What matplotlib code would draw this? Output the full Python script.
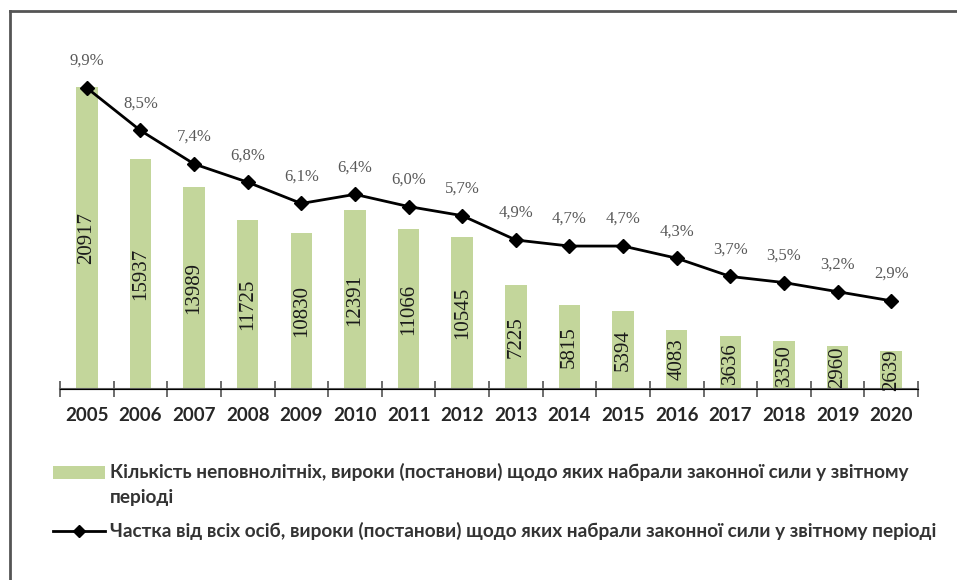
import matplotlib
matplotlib.use("Agg")
import matplotlib.pyplot as plt
from matplotlib.lines import Line2D
from matplotlib.patches import Rectangle

years = ["2005", "2006", "2007", "2008", "2009", "2010", "2011", "2012",
         "2013", "2014", "2015", "2016", "2017", "2018", "2019", "2020"]
counts = [20917, 15937, 13989, 11725, 10830, 12391, 11066, 10545,
          7225, 5815, 5394, 4083, 3636, 3350, 2960, 2639]
shares = [9.9, 8.5, 7.4, 6.8, 6.1, 6.4, 6.0, 5.7,
          4.9, 4.7, 4.7, 4.3, 3.7, 3.5, 3.2, 2.9]
legend_bar = ("Кількість неповнолітніх, вироки (постанови) щодо яких набрали законної сили у звітному",
              "періоді")
legend_line = "Частка від всіх осіб, вироки (постанови) щодо яких набрали законної сили у звітному періоді"

W, H = 957, 580
fig = plt.figure(figsize=(W / 100, H / 100), dpi=100)
fig.patch.set_facecolor("white")

def fx(px):
    return px / W

def fy(py):
    return 1 - py / H

ax = fig.add_axes([fx(60), fy(389), fx(918) - fx(60), fy(28) - fy(389)])
ax2 = ax.twinx()

x = list(range(len(years)))
bar_color = "#C3D69B"
ax.bar(x, counts, width=0.4, color=bar_color, zorder=2)
for xi, c in zip(x, counts):
    ax.text(xi, c / 2, str(c), rotation=90, ha="center", va="center",
            fontsize=15, family="Liberation Serif", color="#1a1a1a", zorder=3)
ax.set_ylim(0, 25000)
ax.set_xlim(-0.5, len(years) - 0.5)

ax2.plot(x, shares, color="black", lw=2, marker="D", markersize=7, zorder=4)
ax2.set_ylim(0, 11.87)
for xi, s in zip(x, shares):
    ax2.annotate(f"{s:.1f}%".replace(".", ","), (xi, s), xytext=(0, 27),
                 textcoords="offset pixels", ha="center", va="center",
                 fontsize=12, family="Liberation Serif", color="#595959")

for a in (ax, ax2):
    for side in ("top", "right", "left"):
        a.spines[side].set_visible(False)
    a.set_yticks([])
ax.spines["bottom"].set_color("#606060")
ax.spines["bottom"].set_linewidth(1.5)
ax.set_xticks([i - 0.5 for i in range(len(years) + 1)])
ax.set_xticklabels([])
ax.set_xticks(x, minor=True)
ax.set_xticklabels(years, minor=True, fontsize=13.5, fontweight="bold",
                   family="Lato", color="#262626")
ax.tick_params(axis="x", which="major", direction="inout", length=12,
               width=1.3, color="#606060")
ax.tick_params(axis="x", which="minor", length=0, pad=13)

# frame lines
fig.add_artist(Line2D([fx(10), 1], [fy(11), fy(11)], color="#555555", lw=2))
fig.add_artist(Line2D([fx(10), fx(10)], [fy(11), 0], color="#555555", lw=2))

# legend (manual)
fig.add_artist(Rectangle((fx(53), fy(479)), fx(105) - fx(53), fy(466) - fy(479),
                         facecolor=bar_color, edgecolor="none"))
fig.add_artist(Line2D([fx(53), fx(105)], [fy(531), fy(531)], color="black", lw=2))
fig.add_artist(Line2D([fx(79)], [fy(531)], color="black", marker="D",
                      markersize=6, lw=0))
lfont = dict(fontsize=13.7, fontweight="bold", family="Lato", color="#333333",
             ha="left", va="center")
fig.text(fx(110), fy(472), legend_bar[0], **lfont)
fig.text(fx(110), fy(497), legend_bar[1], **lfont)
fig.text(fx(110), fy(531), legend_line, **lfont)

fig.savefig("out.png", dpi=100, facecolor="white")
